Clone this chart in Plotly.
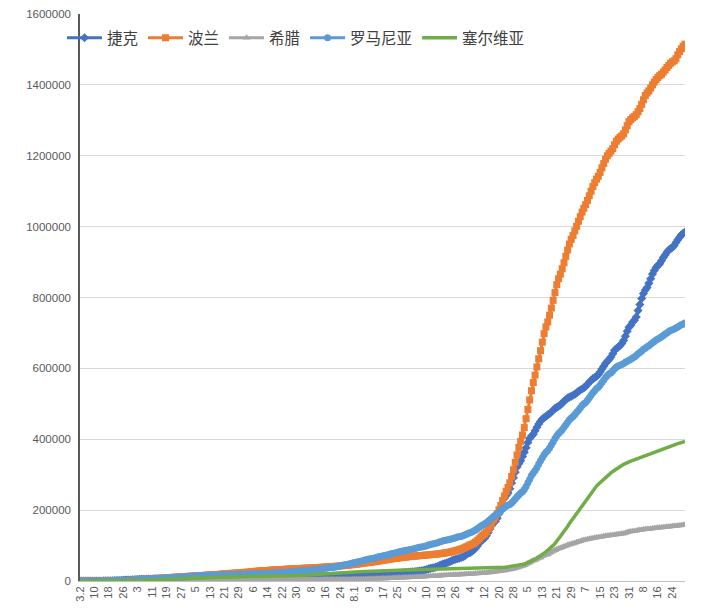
import plotly.graph_objects as go

# Daily cumulative confirmed cases (in thousands), 2020-03-02 .. 2021-01-31
CZECH_K = [
    # Mar 2-31
    0.003, 0.005, 0.005, 0.008, 0.019, 0.026, 0.032, 0.038, 0.063, 0.094, 0.116, 0.141, 0.189, 0.298, 0.383,
    0.450, 0.560, 0.765, 0.889, 1.047, 1.161, 1.287, 1.472, 1.763, 2.022, 2.395, 2.657, 2.817, 3.001, 3.308,
    # Apr
    3.589, 3.858, 4.190, 4.472, 4.587, 4.822, 5.017, 5.312, 5.569, 5.732, 5.831, 5.991, 6.059, 6.141, 6.303,
    6.433, 6.549, 6.654, 6.746, 6.787, 6.900, 7.033, 7.132, 7.188, 7.273, 7.352, 7.404, 7.445, 7.504, 7.579,
    # May
    7.682, 7.737, 7.755, 7.781, 7.819, 7.896, 7.979, 8.031, 8.077, 8.095, 8.123, 8.176, 8.221, 8.269, 8.351,
    8.406, 8.455, 8.475, 8.586, 8.647, 8.721, 8.754, 8.813, 8.826, 8.890, 8.955, 9.002, 9.050, 9.086, 9.140, 9.196,
    # Jun
    9.268, 9.302, 9.364, 9.438, 9.494, 9.529, 9.567, 9.628, 9.708, 9.851, 9.971, 10.064, 10.111, 10.146, 10.208,
    10.298, 10.429, 10.519, 10.661, 10.803, 10.902, 10.971, 11.080, 11.293, 11.520, 11.620, 11.716, 11.767, 11.853, 11.954,
    # Jul
    12.079, 12.205, 12.371, 12.442, 12.515, 12.566, 12.636, 12.693, 12.855, 12.924, 13.001, 13.058, 13.093, 13.157, 13.238,
    13.371, 13.500, 13.565, 13.614, 13.742, 13.902, 14.098, 14.324, 14.570, 14.706, 14.800, 14.990, 15.258, 15.516, 15.799, 16.065,
    # Aug
    16.245, 16.347, 16.574, 16.819, 17.039, 17.286, 17.499, 17.594, 17.731, 17.932, 18.150, 18.434, 18.675, 18.901, 19.010,
    19.111, 19.271, 19.528, 19.825, 20.141, 20.477, 20.688, 20.871, 21.047, 21.479, 21.973, 22.601, 23.206, 23.666, 23.921, 24.362,
    # Sep
    25.0, 25.7, 26.3, 27.0, 27.6, 28.0, 28.5, 29.6, 31.0, 32.4, 34.1, 35.6, 36.6, 37.6, 39.2,
    41.0, 43.3, 45.9, 47.7, 49.2, 51.0, 53.0, 55.0, 57.6, 59.8, 61.5, 62.8, 64.2, 66.3, 67.8,
    # Oct
    70.8, 75.3, 78.1, 80.0, 83.2, 87.5, 93.1, 98.7, 106.3, 112.9, 116.6, 120.6, 127.8, 136.9, 146.8,
    157.3, 164.0, 168.5, 177.0, 189.6, 204.0, 218.9, 233.6, 241.5, 248.3, 260.3, 276.5, 291.7, 307.0, 322.0, 331.0,
    # Nov
    339, 351, 363, 376, 391, 402, 409, 414, 424, 434, 443, 451, 457, 461, 464,
    469, 472, 477, 482, 487, 490, 493, 497, 502, 507, 512, 516, 519, 521, 524,
    # Dec
    527, 531, 535, 539, 542, 545, 549, 555, 561, 566, 571, 574, 577, 583, 590,
    598, 606, 614, 620, 625, 632, 641, 651, 656, 660, 664, 670, 679, 691, 705, 716,
    # Jan
    722, 731, 736, 745, 763, 780, 797, 811, 821, 828, 840, 853, 866, 876, 885,
    891, 895, 904, 913, 920, 928, 934, 938, 941, 947, 955, 963, 970, 977, 981, 985,
]

POLAND_K = [
    0, 0, 0.001, 0.001, 0.005, 0.006, 0.011, 0.017, 0.022, 0.031, 0.051, 0.068, 0.104, 0.125, 0.177,
    0.238, 0.251, 0.355, 0.425, 0.536, 0.634, 0.749, 0.901, 1.051, 1.221, 1.389, 1.638, 1.862, 2.055, 2.311,
    2.554, 2.946, 3.383, 3.627, 4.102, 4.413, 4.848, 5.205, 5.575, 5.955, 6.356, 6.674, 6.934, 7.202, 7.582,
    7.918, 8.379, 8.742, 9.287, 9.593, 9.856, 10.169, 10.511, 10.892, 11.273, 11.617, 11.902, 12.218, 12.640, 12.877,
    13.105, 13.375, 13.693, 14.006, 14.431, 14.740, 15.047, 15.366, 15.651, 15.996, 16.326, 16.921, 17.204, 17.615, 18.016,
    18.257, 18.529, 18.746, 19.268, 19.739, 20.143, 20.619, 20.931, 21.326, 21.631, 21.950, 22.268, 22.473, 22.825, 23.155, 23.571,
    24.165, 24.687, 25.048, 25.410, 25.986, 26.561, 27.160, 27.560, 28.201, 28.470, 28.791, 29.017, 29.392, 29.788, 30.195,
    30.701, 31.015, 31.316, 31.620, 31.931, 32.227, 32.527, 32.821, 33.119, 33.395, 33.627, 33.907, 34.154, 34.393, 34.775,
    35.146, 35.405, 35.719, 35.950, 36.155, 36.412, 36.689, 36.951, 37.216, 37.521, 37.891, 38.190, 38.457, 38.721, 39.054,
    39.407, 39.746, 40.104, 40.383, 40.782, 41.162, 41.580, 42.038, 42.622, 43.042, 43.402, 43.904, 44.416, 45.031, 45.688, 46.346,
    47.001, 47.469, 48.149, 48.789, 49.515, 50.324, 51.167, 51.746, 52.410, 53.051, 53.917, 54.487, 55.319, 56.148, 56.886,
    57.879, 58.611, 59.473, 60.281, 61.181, 62.001, 62.754, 63.289, 63.872, 64.689, 65.480, 66.237, 66.961, 67.372, 67.922, 68.562,
    69.129, 69.667, 70.176, 70.569, 71.046, 71.440, 71.947, 72.466, 72.849, 73.322, 73.855, 74.300, 74.785, 75.134, 75.655,
    76.206, 76.900, 77.668, 78.330, 79.240, 79.834, 80.699, 81.673, 82.809, 84.396, 85.396, 86.822, 88.636, 90.069, 91.514,
    94.0, 96.5, 99.0, 101.5, 103.5, 106.0, 109.5, 114.0, 119.0, 124.5, 129.0, 133.0, 138.5, 146.0, 154.0,
    163.0, 172.0, 180.0, 190.0, 201.0, 213.0, 227.0, 240.0, 253.0, 264.0, 277.0, 295.0, 314.0, 335.0, 356.0, 377.0,
    394, 412, 433, 458, 484, 511, 537, 560, 581, 604, 627, 650, 674, 698, 717,
    731, 750, 770, 792, 814, 836, 853, 866, 881, 898, 916, 934, 951, 964, 975,
    988, 1001, 1015, 1028, 1041, 1052, 1062, 1074, 1087, 1100, 1113, 1124, 1134, 1142, 1153,
    1166, 1178, 1190, 1200, 1207, 1213, 1220, 1231, 1241, 1247, 1252, 1256, 1262, 1273, 1285, 1296,
    1302, 1307, 1311, 1316, 1324, 1333, 1345, 1358, 1370, 1377, 1383, 1391, 1400, 1408, 1415,
    1421, 1426, 1430, 1436, 1442, 1449, 1455, 1461, 1465, 1468, 1474, 1485, 1494, 1502, 1509, 1515,
]

GREECE_K = [
    0.007, 0.007, 0.010, 0.031, 0.045, 0.066, 0.073, 0.084, 0.089, 0.099, 0.117, 0.190, 0.228, 0.331, 0.352,
    0.387, 0.418, 0.495, 0.530, 0.624, 0.695, 0.743, 0.821, 0.892, 0.966, 1.061, 1.156, 1.212, 1.314, 1.415,
    1.54, 1.61, 1.67, 1.73, 1.76, 1.76, 1.83, 1.88, 1.96, 2.01, 2.08, 2.11, 2.15, 2.17, 2.19,
    2.19, 2.21, 2.22, 2.24, 2.25, 2.25, 2.40, 2.46, 2.49, 2.51, 2.52, 2.53, 2.56, 2.57, 2.59,
    2.59, 2.61, 2.62, 2.63, 2.64, 2.66, 2.68, 2.69, 2.71, 2.72, 2.73, 2.74, 2.74, 2.76, 2.77,
    2.80, 2.81, 2.82, 2.83, 2.84, 2.85, 2.87, 2.87, 2.88, 2.88, 2.89, 2.89, 2.90, 2.91, 2.92, 2.92,
    2.94, 2.95, 2.96, 2.98, 3.01, 3.04, 3.06, 3.08, 3.09, 3.11, 3.12, 3.12, 3.12, 3.15, 3.15,
    3.16, 3.18, 3.20, 3.22, 3.23, 3.26, 3.29, 3.30, 3.34, 3.35, 3.37, 3.38, 3.39, 3.41, 3.43,
    3.46, 3.49, 3.51, 3.52, 3.56, 3.59, 3.62, 3.67, 3.73, 3.77, 3.80, 3.83, 3.85, 3.88, 3.91,
    3.94, 3.96, 3.98, 4.01, 4.05, 4.08, 4.11, 4.16, 4.19, 4.23, 4.28, 4.34, 4.38, 4.43, 4.48, 4.59,
    4.66, 4.74, 4.86, 4.97, 5.12, 5.22, 5.27, 5.42, 5.62, 5.75, 5.87, 6.04, 6.18, 6.38, 6.63,
    6.77, 6.86, 7.08, 7.31, 7.47, 7.68, 7.97, 8.20, 8.38, 8.64, 8.86, 9.14, 9.28, 9.56, 9.80, 10.0,
    10.3, 10.5, 10.8, 11.0, 11.4, 11.7, 11.8, 12.0, 12.4, 12.7, 13.1, 13.4, 13.7, 14.0, 14.2,
    14.4, 14.9, 15.2, 15.6, 15.9, 16.1, 16.3, 16.6, 16.9, 17.3, 17.6, 17.8, 18.0, 18.2, 18.5,
    18.9, 19.3, 19.6, 19.9, 20.1, 20.5, 20.9, 21.3, 21.8, 22.1, 22.4, 22.7, 23.2, 23.7, 24.2,
    24.7, 25.5, 26.2, 26.8, 27.3, 28.2, 29.0, 29.8, 30.8, 31.5, 32.3, 33.3, 34.6, 35.9, 37.5, 39.3,
    40.9, 42.4, 44.4, 46.9, 49.8, 52.4, 55.1, 57.7, 59.4, 62.0, 64.9, 66.6, 69.7, 72.5, 74.2,
    75.4, 79.0, 81.6, 84.6, 86.6, 89.3, 91.5, 92.9, 95.1, 97.3, 99.1, 101.3, 103.0, 104.2, 105.9,
    107.5, 109.0, 110.8, 112.5, 114.1, 115.5, 116.5, 117.5, 118.7, 119.7, 120.9, 121.9, 122.5, 123.3, 124.2,
    125.1, 126.0, 126.8, 127.6, 128.3, 128.8, 129.4, 130.4, 131.1, 131.7, 132.3, 133.0, 134.0, 135.5, 137.4, 138.9,
    139.4, 140.1, 140.5, 141.5, 142.9, 143.7, 144.5, 145.3, 146.0, 146.4, 146.9, 147.6, 148.4, 149.1, 149.7,
    150.2, 150.5, 151.1, 151.7, 152.2, 152.8, 153.3, 153.9, 154.5, 154.9, 155.4, 156.1, 156.7, 157.2, 157.9, 158.4,
]

ROMANIA_K = [
    0.003, 0.004, 0.004, 0.006, 0.009, 0.009, 0.015, 0.015, 0.025, 0.045, 0.049, 0.089, 0.123, 0.131, 0.158,
    0.184, 0.260, 0.277, 0.308, 0.367, 0.433, 0.576, 0.762, 0.906, 1.029, 1.292, 1.452, 1.760, 1.952, 2.245,
    2.46, 2.74, 3.18, 3.61, 3.86, 4.06, 4.42, 4.76, 5.20, 5.47, 5.99, 6.30, 6.63, 6.88, 7.22,
    7.71, 8.07, 8.42, 8.75, 8.94, 9.24, 9.71, 10.10, 10.42, 10.64, 11.04, 11.34, 11.62, 11.98, 12.24,
    12.57, 12.73, 13.16, 13.51, 13.84, 14.11, 14.50, 14.81, 15.13, 15.36, 15.59, 15.78, 16.00, 16.25, 16.44,
    16.70, 16.87, 17.04, 17.19, 17.39, 17.59, 17.71, 17.86, 18.07, 18.28, 18.43, 18.59, 18.79, 18.98, 19.13, 19.26,
    19.40, 19.52, 19.67, 19.91, 20.10, 20.29, 20.48, 20.60, 20.75, 20.95, 21.18, 21.40, 21.68, 21.99, 22.16,
    22.41, 22.76, 23.00, 23.40, 23.73, 24.04, 24.29, 24.50, 24.77, 25.29, 25.70, 26.20, 26.58, 26.97, 27.30,
    27.75, 28.17, 28.58, 28.97, 29.22, 29.62, 30.18, 30.79, 31.38, 31.77, 32.35, 32.95, 33.59, 34.23, 35.00,
    35.80, 36.69, 37.46, 38.14, 38.58, 39.13, 40.19, 41.28, 42.36, 43.68, 44.80, 45.90, 46.90, 48.24, 49.59, 50.89,
    52.11, 53.19, 54.01, 55.24, 56.51, 57.90, 59.27, 60.62, 61.77, 62.55, 63.76, 65.18, 66.63, 67.98, 69.21,
    70.13, 71.03, 72.21, 73.62, 74.96, 76.36, 77.47, 78.25, 79.55, 80.90, 82.24, 83.67, 84.99, 86.17, 87.03, 87.54,
    88.59, 89.84, 91.25, 92.59, 93.86, 94.90, 95.90, 96.80, 98.20, 99.68, 101.39, 102.92, 104.19, 105.30, 106.48,
    108.16, 109.77, 111.55, 113.34, 114.38, 115.36, 116.75, 118.05, 119.05, 120.61, 122.07, 123.94, 124.96, 125.41, 127.57,
    130.0, 132.0, 134.5, 136.5, 138.5, 141.0, 144.0, 147.5, 151.0, 155.0, 158.0, 161.0, 164.5, 168.5, 173.0,
    177.5, 182.0, 186.0, 189.5, 193.5, 198.0, 203.0, 207.5, 211.0, 213.5, 216.0, 220.0, 225.5, 231.5, 237.5, 243.0,
    248, 252, 258, 267, 277, 287, 298, 305, 312, 320, 330, 339, 348, 356, 363,
    368, 375, 384, 393, 402, 410, 416, 421, 427, 434, 441, 448, 455, 460, 464,
    470, 476, 482, 488, 495, 500, 504, 510, 517, 524, 531, 537, 543, 547, 553,
    560, 567, 574, 580, 585, 588, 593, 599, 604, 607, 609, 611, 614, 617, 620, 623,
    626, 629, 632, 636, 641, 645, 649, 654, 657, 661, 664, 668, 672, 676, 680,
    683, 686, 689, 693, 697, 700, 704, 707, 709, 711, 714, 717, 720, 723, 725, 728,
]

SERBIA_K = [
    0, 0, 0, 0, 0.001, 0.001, 0.002, 0.005, 0.012, 0.019, 0.024, 0.035, 0.046, 0.048, 0.057,
    0.083, 0.103, 0.135, 0.171, 0.222, 0.249, 0.303, 0.384, 0.457, 0.528, 0.659, 0.741, 0.785, 0.900, 1.060,
    1.17, 1.48, 1.62, 1.91, 2.20, 2.45, 2.67, 2.87, 3.10, 3.63, 4.05, 4.47, 4.87, 5.32, 5.69,
    5.99, 6.32, 6.63, 6.89, 7.11, 7.28, 7.48, 7.78, 8.04, 8.28, 8.49, 8.72, 8.87, 9.01, 9.36,
    9.46, 9.68, 9.79, 9.85, 9.94, 10.03, 10.17, 10.24, 10.37, 10.44, 10.50, 10.55, 10.61, 10.64, 10.70,
    10.73, 10.76, 10.80, 10.83, 10.85, 10.92, 10.98, 11.06, 11.09, 11.12, 11.15, 11.19, 11.21, 11.23, 11.28, 11.35,
    11.38, 11.41, 11.43, 11.45, 11.52, 11.57, 11.67, 11.74, 11.82, 11.90, 12.0, 12.1, 12.2, 12.3, 12.4,
    12.5, 12.6, 12.7, 12.8, 12.9, 13.0, 13.1, 13.2, 13.4, 13.6, 13.8, 14.0, 14.3, 14.5, 14.8,
    15.2, 15.5, 15.8, 16.2, 16.4, 16.7, 17.1, 17.3, 17.6, 17.9, 18.1, 18.4, 18.7, 19.0, 19.4,
    19.7, 20.0, 20.5, 20.9, 21.2, 21.6, 22.0, 22.4, 22.7, 23.0, 23.4, 23.7, 24.0, 24.1, 24.4, 24.8,
    25.1, 25.4, 25.6, 25.9, 26.2, 26.5, 26.7, 27.0, 27.3, 27.5, 27.8, 28.0, 28.2, 28.4, 28.7,
    28.9, 29.1, 29.3, 29.5, 29.7, 29.9, 30.0, 30.2, 30.4, 30.6, 30.7, 30.9, 31.0, 31.2, 31.3, 31.4,
    31.5, 31.6, 31.7, 31.8, 31.9, 32.0, 32.1, 32.2, 32.3, 32.4, 32.5, 32.6, 32.6, 32.7, 32.8,
    32.9, 33.0, 33.0, 33.1, 33.2, 33.3, 33.4, 33.5, 33.5, 33.6, 33.7, 33.8, 33.9, 33.9, 34.0,
    34.1, 34.2, 34.3, 34.4, 34.5, 34.6, 34.7, 34.8, 35.0, 35.1, 35.3, 35.4, 35.6, 35.8, 36.0,
    36.3, 36.5, 36.8, 37.1, 37.4, 37.8, 38.2, 38.7, 39.1, 39.7, 40.2, 40.9, 41.6, 42.4, 43.3, 44.3,
    45.3, 46.5, 48.0, 49.8, 51.8, 54.0, 56.5, 59.0, 61.5, 64.5, 68.0, 71.5, 75.0, 78.5, 82.5,
    86.5, 91.0, 95.5, 100.5, 105.5, 112, 118, 125, 132, 139, 146, 154, 162, 169, 176,
    183, 190, 198, 206, 214, 222, 229, 236, 243, 250, 256, 262, 268, 273, 278,
    283, 288, 293, 297, 301, 305, 309, 313, 317, 320, 323, 326, 329, 332, 334, 336,
    338, 340, 342, 344, 346, 348, 349.5, 351, 353, 355, 357, 359, 361, 363, 365,
    367, 369, 371, 373, 375, 377, 379, 381, 382.5, 384, 386, 387.5, 389, 390.5, 392, 393.5,
]

SERIES_NAMES = ["捷克", "波兰", "希腊", "罗马尼亚", "塞尔维亚"]
SERIES_VALUES_K = [CZECH_K, POLAND_K, GREECE_K, ROMANIA_K, SERBIA_K]
COLORS = ["#4472C4", "#ED7D31", "#A5A5A5", "#5B9BD5", "#70AD47"]
MARKERS = ["diamond", "square", "triangle-up", "circle", None]

# x tick labels: every 8th day starting 2020-03-02
X_TICK_LABELS = ["3.2", "10", "18", "26", "3", "11", "19", "27", "5", "13", "21", "29",
                 "6", "14", "22", "30", "8", "16", "24", "8.1", "9", "17", "25", "2",
                 "10", "18", "26", "4", "12", "20", "28", "5", "13", "21", "29", "7",
                 "15", "23", "31", "8", "16", "24"]
TICK_STEP_DAYS = 8

n_days = len(CZECH_K)
days = list(range(n_days))

fig = go.Figure()
for name, vals, color, sym in zip(SERIES_NAMES, SERIES_VALUES_K, COLORS, MARKERS):
    y = [v * 1000 for v in vals]
    if sym is None:
        fig.add_trace(go.Scatter(x=days, y=y, name=name, mode="lines",
                                 line=dict(color=color, width=3.5)))
    else:
        fig.add_trace(go.Scatter(x=days, y=y, name=name, mode="lines+markers",
                                 line=dict(color=color, width=3),
                                 marker=dict(symbol=sym, size=7, color=color,
                                             line=dict(width=0))))

fig.update_layout(
    width=721, height=615,
    margin=dict(l=80, r=36, t=14, b=34, autoexpand=False),
    paper_bgcolor="white", plot_bgcolor="white",
    font=dict(family="Liberation Sans, Arial, sans-serif", color="#595959"),
    showlegend=True,
    legend=dict(orientation="h", xref="container", yref="container",
                x=0.086, y=0.938, xanchor="left", yanchor="middle",
                bgcolor="rgba(0,0,0,0)",
                font=dict(family="Noto Sans CJK SC", size=15.5, color="#404040"),
                itemwidth=35, tracegroupgap=0),
)
fig.update_xaxes(
    range=[0, n_days - 1],
    tickmode="array",
    tickvals=[i * TICK_STEP_DAYS for i in range(len(X_TICK_LABELS))],
    ticktext=X_TICK_LABELS,
    tickangle=-90,
    tickfont=dict(size=11, color="#595959"),
    showgrid=False, zeroline=False,
    showline=True, linecolor="#BFBFBF", linewidth=1,
    ticks="", automargin=False,
)
fig.update_yaxes(
    range=[0, 1600000], dtick=200000, tickformat="d",
    tickfont=dict(size=11.5, color="#595959"),
    showgrid=True, gridcolor="#D9D9D9", gridwidth=1,
    zeroline=False,
    showline=True, linecolor="#595959", linewidth=1.5,
    ticks="", ticklabelstandoff=5, automargin=False,
)

fig.write_html("out.html",
               config={"displayModeBar": False},
               post_script="document.body.style.margin='0';document.body.style.overflow='hidden';")
